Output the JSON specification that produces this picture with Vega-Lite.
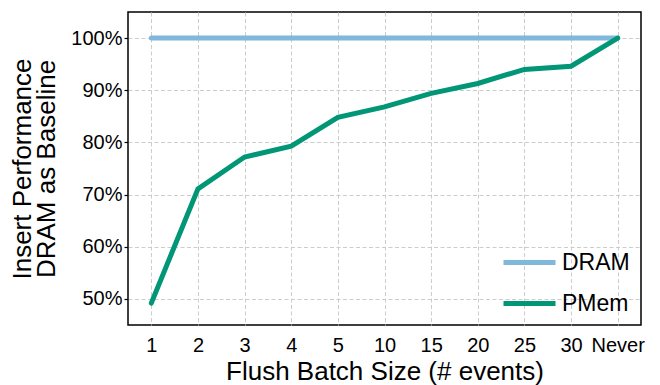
{
  "$schema": "https://vega.github.io/schema/vega-lite/v6.json",
  "autosize": {"type": "none"},
  "width": 513,
  "height": 313,
  "padding": {"left": 128, "top": 12, "right": 19, "bottom": 60},
  "config": {
    "font": "Liberation Sans, Arial, sans-serif",
    "view": {"stroke": "black", "strokeWidth": 1.5},
    "axis": {"labelColor": "black", "titleColor": "black", "titleFontWeight": "normal", "gridColor": "#cccccc", "gridDash": [4, 2.5], "gridWidth": 1, "domain": false}
  },
  "data": {
    "values": [
      {"batch": "1", "series": "DRAM", "perf": 100},
      {"batch": "2", "series": "DRAM", "perf": 100},
      {"batch": "3", "series": "DRAM", "perf": 100},
      {"batch": "4", "series": "DRAM", "perf": 100},
      {"batch": "5", "series": "DRAM", "perf": 100},
      {"batch": "10", "series": "DRAM", "perf": 100},
      {"batch": "15", "series": "DRAM", "perf": 100},
      {"batch": "20", "series": "DRAM", "perf": 100},
      {"batch": "25", "series": "DRAM", "perf": 100},
      {"batch": "30", "series": "DRAM", "perf": 100},
      {"batch": "Never", "series": "DRAM", "perf": 100},
      {"batch": "1", "series": "PMem", "perf": 49.2},
      {"batch": "2", "series": "PMem", "perf": 71.1},
      {"batch": "3", "series": "PMem", "perf": 77.2},
      {"batch": "4", "series": "PMem", "perf": 79.3},
      {"batch": "5", "series": "PMem", "perf": 84.8},
      {"batch": "10", "series": "PMem", "perf": 86.8},
      {"batch": "15", "series": "PMem", "perf": 89.4},
      {"batch": "20", "series": "PMem", "perf": 91.3},
      {"batch": "25", "series": "PMem", "perf": 94.0},
      {"batch": "30", "series": "PMem", "perf": 94.6},
      {"batch": "Never", "series": "PMem", "perf": 100}
    ]
  },
  "mark": {"type": "line", "strokeWidth": 5, "strokeCap": "round", "strokeJoin": "miter"},
  "encoding": {
    "x": {
      "field": "batch", "type": "ordinal",
      "sort": ["1", "2", "3", "4", "5", "10", "15", "20", "25", "30", "Never"],
      "scale": {"type": "point", "padding": 0.5},
      "axis": {"title": "Flush Batch Size (# events)", "titleFontSize": 26, "labelFontSize": 20, "labelAngle": 0, "ticks": false, "labelPadding": 10, "titlePadding": 3, "grid": true}
    },
    "y": {
      "field": "perf", "type": "quantitative",
      "scale": {"domain": [45, 105], "nice": false, "zero": false},
      "axis": {"title": ["Insert Performance", "DRAM as Baseline"], "titleFontSize": 26, "titleLineHeight": 24, "labelFontSize": 20, "values": [50, 60, 70, 80, 90, 100], "labelExpr": "datum.value + '%'", "tickSize": 4, "tickColor": "black", "tickWidth": 1.2, "labelPadding": 2, "titlePadding": 11, "grid": true}
    },
    "color": {
      "field": "series", "type": "nominal",
      "scale": {"domain": ["DRAM", "PMem"], "range": ["#7fb8da", "#009676"]},
      "legend": {"title": null, "orient": "none", "legendX": 373, "legendY": 222, "symbolType": "stroke", "symbolSize": 2704, "symbolStrokeWidth": 5, "labelFontSize": 23, "labelOffset": 4, "rowPadding": -11, "padding": 0, "labelColor": "black"}
    }
  }
}
